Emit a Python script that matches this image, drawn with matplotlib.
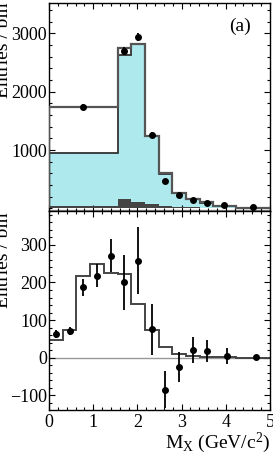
import matplotlib
matplotlib.use("Agg")
import matplotlib.pyplot as plt
from matplotlib.ticker import MultipleLocator, FixedLocator

plt.rcParams['font.family'] = ['Liberation Serif', 'DejaVu Serif']
plt.rcParams['mathtext.fontset'] = 'custom'
plt.rcParams['mathtext.rm'] = 'Liberation Serif'
plt.rcParams['mathtext.it'] = 'Liberation Serif:italic'

# ---------- data: top panel ----------
edges_top = [0, 1.55, 1.86, 2.17, 2.48, 2.79, 3.10, 3.41, 3.72, 4.22, 5.0]
total_top = [1740, 2750, 2820, 1240, 600, 268, 160, 103, 45, 8]
signal_top = [945, 2630, 2810, 1235, 595, 265, 157, 100, 44, 6]
bkg_top = [35, 155, 115, 75, 45, 28, 18, 12, 8, 4]
data_top_x = [0.775, 1.705, 2.015, 2.325, 2.635, 2.945, 3.255, 3.565, 3.97, 4.61]
data_top_y = [1742, 2697, 2942, 1263, 474, 234, 148, 97, 52, 18]
data_top_err = [40, 65, 70, 50, 35, 25, 20, 15, 12, 8]
yticks_top = [1000, 2000, 3000]

# ---------- data: bottom panel ----------
edges_bot = [0, 0.31, 0.62, 0.93, 1.24, 1.55, 1.86, 2.17, 2.48, 2.79, 3.10, 3.41, 3.72, 4.22, 5.0]
hist_bot = [47, 73, 218, 249, 226, 223, 142, 73, 29, 10, 4, 2, 1, 0]
data_bot_x = [0.155, 0.465, 0.775, 1.085, 1.395, 1.705, 2.015, 2.325, 2.635, 2.945, 3.255, 3.565, 4.03, 4.68]
data_bot_y = [63, 71, 187, 218, 271, 200, 258, 75, -85, -24, 21, 17, 5, 1]
data_bot_err = [10, 10, 22, 30, 44, 73, 89, 67, 50, 40, 35, 29, 22, 3]

W, H = 273, 455
fig = plt.figure(figsize=(W / 100, H / 100), dpi=100)

left = 49 / W
width = (270 - 49) / W
ax1 = fig.add_axes([left, (H - 211) / H, width, (211 - 3) / H])
ax2 = fig.add_axes([left, (H - 410) / H, width, (410 - 211) / H])

cyan = '#aee9ee'

# top panel
ax1.stairs(signal_top, edges_top, fill=True, color=cyan, zorder=1)
ax1.stairs(bkg_top, edges_top, fill=True, color='#444444', zorder=2)
ax1.stairs(signal_top, edges_top, color='#333333', lw=1.3, zorder=3)
ax1.stairs(total_top, edges_top, color='#555555', lw=1.6, zorder=4)
ax1.axhline(-25, color='#aaaaaa', lw=1.0, zorder=1)
ax1.errorbar(data_top_x, data_top_y, yerr=data_top_err, fmt='o', color='black',
             ms=4, elinewidth=1.3, capsize=0, zorder=5)
ax1.set_xlim(0, 5)
ax1.set_ylim(-45, 3520)
ax1.text(251 / W, 1 - 31 / H, '(a)', transform=fig.transFigure, ha='right',
         va='baseline', fontsize=14)

# bottom panel
ax2.axhline(0, color='#999999', lw=1.0, zorder=1)
ax2.stairs(hist_bot, edges_bot, color='#444444', lw=1.4, zorder=2)
ax2.errorbar(data_bot_x, data_bot_y, yerr=data_bot_err, fmt='o', color='black',
             ms=4, elinewidth=1.3, capsize=0, zorder=5)
ax2.set_xlim(0, 5)
ax2.set_ylim(-139, 390)

for ax in (ax1, ax2):
    ax.tick_params(which='both', direction='in', top=True, right=True, width=0.8,
                   labelsize=13, pad=1.5)
    ax.tick_params(which='major', length=4.5)
    ax.tick_params(which='minor', length=2.2)
    ax.xaxis.set_major_locator(MultipleLocator(1))
    ax.xaxis.set_minor_locator(MultipleLocator(0.2))
    for s in ax.spines.values():
        s.set_linewidth(1.0)

ax1.yaxis.set_major_locator(FixedLocator(yticks_top))
ax1.yaxis.set_minor_locator(MultipleLocator(200))
ax1.tick_params(labelbottom=False)
ax2.yaxis.set_major_locator(MultipleLocator(100))
ax2.yaxis.set_minor_locator(MultipleLocator(20))
ax2.tick_params(axis='x', pad=3)

fig.text(8 / W, 1 - 3 / H, 'Entries / bin', rotation=90, rotation_mode='anchor',
         ha='right', va='baseline', fontsize=14)
fig.text(8 / W, 1 - 212 / H, 'Entries / bin', rotation=90, rotation_mode='anchor',
         ha='right', va='baseline', fontsize=14)
fig.text(270 / W, 1 - 448 / H, r'$\mathrm{M}_{\mathrm{X}}$ (GeV/c$^{2}$)',
         ha='right', va='baseline', fontsize=14)

fig.savefig('out.png', dpi=100)
